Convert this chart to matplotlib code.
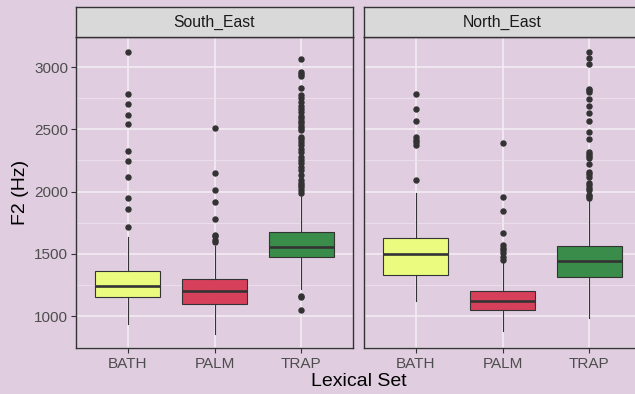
import numpy as np
import matplotlib.pyplot as plt
from matplotlib.patches import Rectangle
from matplotlib.ticker import MultipleLocator

plt.rcParams['font.family'] = ['Liberation Sans', 'DejaVu Sans']

# Input source data
regions = ['South_East', 'North_East']
lex_sets = ['BATH', 'PALM', 'TRAP']
box_colors = ['#EAFB80', '#D7405A', '#3A8C4A']

# per region: BATH, PALM, TRAP
q1 = {'South_East': [1152, 1099, 1471], 'North_East': [1327, 1046, 1313]}
med = {'South_East': [1243, 1203, 1556], 'North_East': [1495, 1123, 1441]}
q3 = {'South_East': [1364, 1297, 1674], 'North_East': [1626, 1198, 1564]}
whislo = {'South_East': [936, 856, 1215], 'North_East': [1123, 882, 981]}
whishi = {'South_East': [1637, 1560, 1975], 'North_East': [1990, 1425, 1935]}

fliers = {
    'South_East': [
        [3124, 2782, 2704, 2611, 2543, 2327, 2242, 2118, 1947, 1860, 1717],
        [2509, 2145, 2009, 1913, 1778, 1653, 1640, 1610, 1597],
        [3068, 2960, 2940, 2925, 2828, 2775, 2750, 2720, 2690, 2665, 2640,
         2610, 2590, 2570, 2550, 2530, 2510, 2495, 2440, 2420, 2395, 2370,
         2340, 2320, 2280, 2255, 2230, 2200, 2175, 2130, 2090, 2070, 2050,
         2035, 2010, 1990, 1160, 1150, 1048],
    ],
    'North_East': [
        [2787, 2659, 2568, 2435, 2415, 2395, 2370, 2091],
        [2386, 1958, 1845, 1664, 1570, 1550, 1530, 1505, 1476, 1450],
        [3121, 3076, 3028, 2827, 2812, 2800, 2747, 2686, 2627, 2565, 2479,
         2418, 2318, 2300, 2283, 2266, 2218, 2158, 2140, 2118, 2067, 2050,
         2030, 2011, 1971, 1960, 1947],
    ],
}

bg = '#E0CEE0'
fig = plt.figure(figsize=(6.35, 3.94), dpi=100, facecolor=bg)

W, H = 635.0, 394.0
panel_x = [76, 364]
panel_w = 277
panel_top, panel_bot = 37, 348
strip_top = 7

pos = np.arange(1, len(lex_sets) + 1)

for i, reg in enumerate(regions):
    ax = fig.add_axes([panel_x[i] / W, (H - panel_bot) / H,
                       panel_w / W, (panel_bot - panel_top) / H])
    ax.set_facecolor(bg)

    stats = []
    for k, lab in enumerate(lex_sets):
        stats.append(dict(label=lab, q1=q1[reg][k], med=med[reg][k],
                          q3=q3[reg][k], whislo=whislo[reg][k],
                          whishi=whishi[reg][k], fliers=fliers[reg][k]))

    bp = ax.bxp(stats, positions=pos, widths=0.75, patch_artist=True,
                showcaps=False,
                boxprops=dict(edgecolor='#333333', linewidth=0.8),
                medianprops=dict(color='#333333', linewidth=1.9),
                whiskerprops=dict(color='#333333', linewidth=0.8),
                flierprops=dict(marker='o', markersize=3.6,
                                markerfacecolor='#333333',
                                markeredgecolor='#333333'),
                zorder=3)
    for patch, c in zip(bp['boxes'], box_colors):
        patch.set_facecolor(c)

    ax.set_xlim(0.4, 3.6)
    ax.set_ylim(743, 3241)
    ax.yaxis.set_major_locator(MultipleLocator(500))
    ax.yaxis.set_minor_locator(MultipleLocator(250))
    ax.set_xticks(pos)
    ax.set_xticklabels(lex_sets)

    ax.grid(True, which='major', color='#F4EEF4', linewidth=1.1, zorder=0)
    ax.grid(True, which='minor', axis='y', color='#EDE2ED', linewidth=0.6,
            zorder=0)
    ax.set_axisbelow(True)

    for s in ax.spines.values():
        s.set_color('#333333')
        s.set_linewidth(1.0)

    ax.tick_params(which='major', colors='#333333', length=3.5, width=0.8,
                   labelsize=11, labelcolor='#4D4D4D', pad=2)
    ax.tick_params(which='minor', length=0)
    ax.tick_params(axis='x', pad=3)
    if i == 0:
        ax.set_ylabel('F2 (Hz)', fontsize=14, color='black', labelpad=4)
    else:
        ax.tick_params(axis='y', which='both', left=False, labelleft=False)

    # facet strip
    sax = fig.add_axes([panel_x[i] / W, (H - panel_top) / H,
                        panel_w / W, (panel_top - strip_top) / H])
    sax.set_xticks([])
    sax.set_yticks([])
    sax.set_facecolor('#D9D9D9')
    for s in sax.spines.values():
        s.set_color('#333333')
        s.set_linewidth(1.0)
    sax.text(0.5, 0.5, reg, ha='center', va='center', fontsize=11.3,
             color='#1A1A1A', transform=sax.transAxes)

fig.text((76 + 641) / 2 / W, 1 - 382 / H, 'Lexical Set', ha='center',
         va='center', fontsize=14, color='black')

plt.savefig('out.png', dpi=100, facecolor=bg)
